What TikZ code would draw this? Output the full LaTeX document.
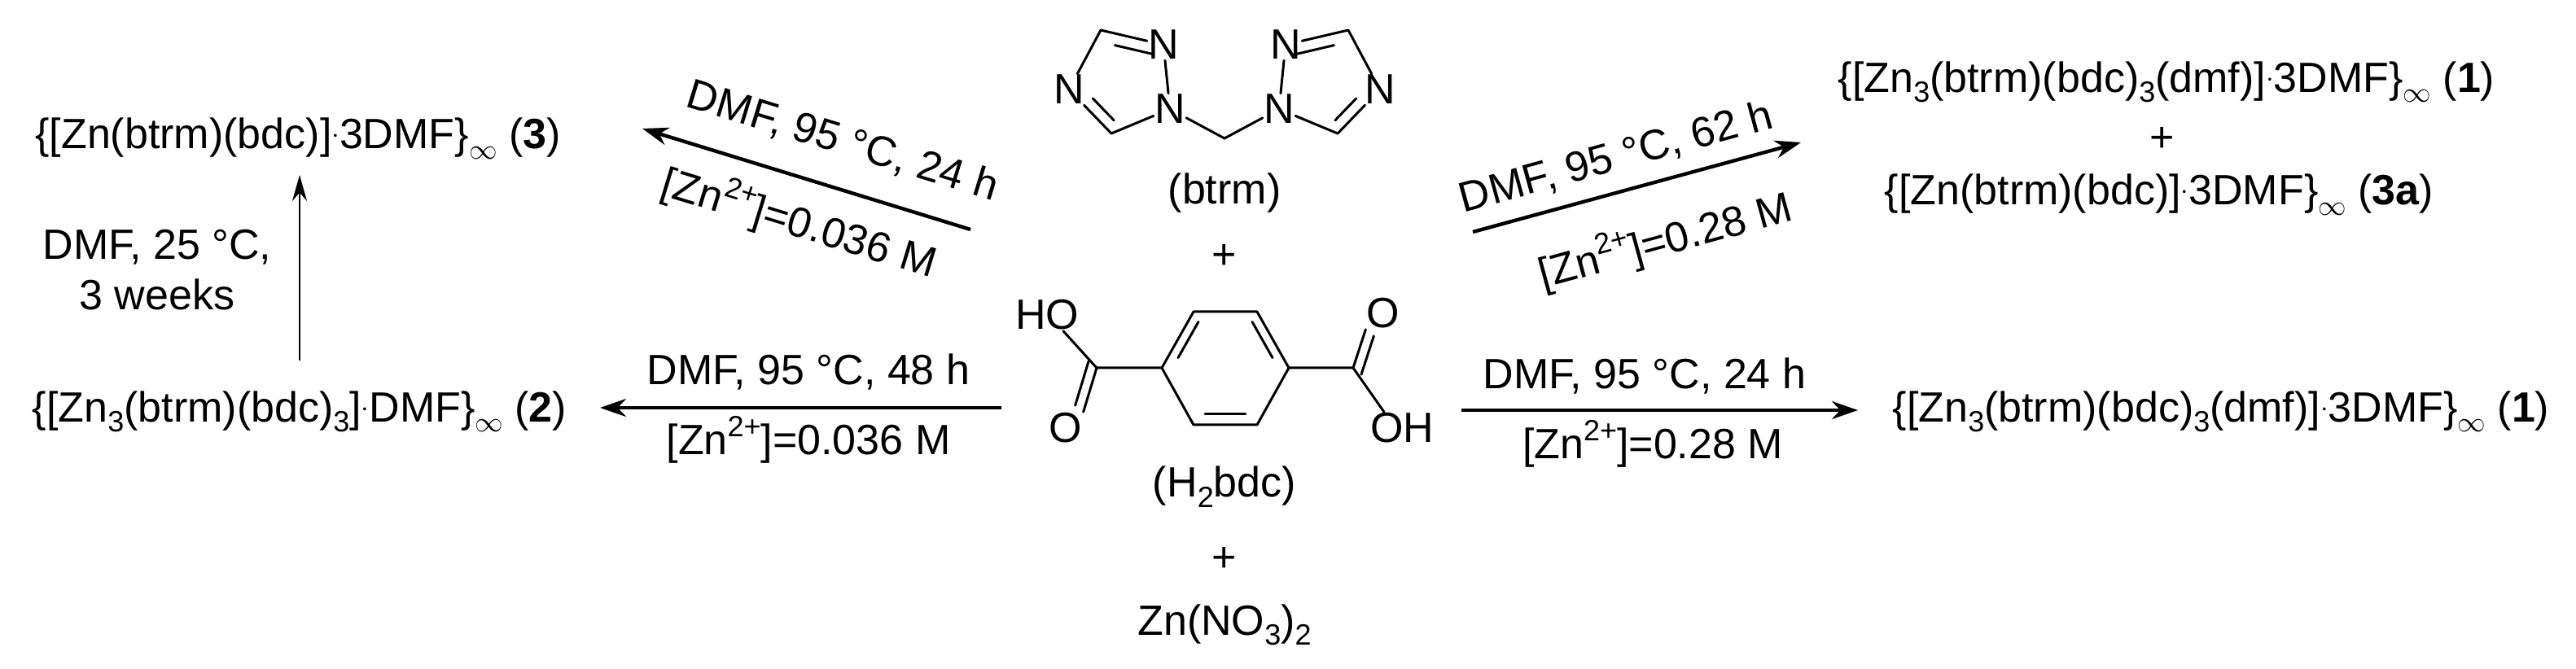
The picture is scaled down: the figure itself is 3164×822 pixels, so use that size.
\documentclass[tikz,border=0pt]{standalone}
\usepackage{fontspec}
\setmainfont{Liberation Sans}
\usetikzlibrary{arrows.meta,calc}
\newcommand\lo[1]{\raisebox{-0.45ex}{\fontsize{18}{18}\selectfont #1}}
\newcommand\hi[1]{\raisebox{0.8ex}{\fontsize{18}{18}\selectfont #1}}
\newcommand\cd{\raisebox{0.25ex}{\fontsize{16}{16}\selectfont$\cdot$}}
\begin{document}
\begin{tikzpicture}[x=0.5pt,y=-0.5pt,
  every node/.style={font=\fontsize{26}{31}\selectfont, inner sep=1pt},
  atom/.style={inner sep=0.5pt},
  bond/.style={line width=1.5pt, line cap=round},
  rxn/.style={line width=2.2pt, -{Stealth[length=16pt,width=11pt]}},
  thin rxn/.style={line width=1.3pt, -{Stealth[length=16pt,width=9pt]}}]
\useasboundingbox (0,0) rectangle (3164,822);
% ---- btrm ----
\node[atom] (Nt1) at (1429,55) {N};
\node[atom] (Nl1) at (1313,110) {N};
\node[atom] (Na1) at (1437,134) {N};
\coordinate (Ct1) at (1352,37);
\coordinate (Cb1) at (1365,164);
\coordinate (CH2) at (1504,170);
\node[atom] (Nt2) at (1579,55) {N};
\node[atom] (Nl2) at (1695,110) {N};
\node[atom] (Na2) at (1571,134) {N};
\coordinate (Ct2) at (1656,37);
\coordinate (Cb2) at (1643,164);
\draw[bond] (Ct1) -- (Nt1) (Nt1) -- (Na1) (Na1) -- (Cb1) (Cb1) -- (Nl1) (Nl1) -- (Ct1) (Na1) -- (CH2) -- (Na2);
\draw[bond] (Ct2) -- (Nt2) (Nt2) -- (Na2) (Na2) -- (Cb2) (Cb2) -- (Nl2) (Nl2) -- (Ct2);
\draw[bond] ($(Ct1)!0.2!(Nt1)+(2,15)$) -- ($(Ct1)!0.8!(Nt1)+(2,15)$);
\draw[bond] ($(Cb1)!0.15!(Nl1)+(11,-8)$) -- ($(Cb1)!0.65!(Nl1)+(11,-8)$);
\draw[bond] ($(Ct2)!0.2!(Nt2)+(-2,15)$) -- ($(Ct2)!0.8!(Nt2)+(-2,15)$);
\draw[bond] ($(Cb2)!0.15!(Nl2)+(-11,-8)$) -- ($(Cb2)!0.65!(Nl2)+(-11,-8)$);
\node (btrm) at (1504,237) {(btrm)};
\node (plus1) at (1504,315) {+};
% ---- H2bdc ----
\coordinate (r1) at (1466,383); \coordinate (r2) at (1544,383);
\coordinate (r3) at (1583,452); \coordinate (r4) at (1544,522);
\coordinate (r5) at (1466,522); \coordinate (r6) at (1427,452);
\draw[bond, line join=round] (r1) -- (r2) -- (r3) -- (r4) -- (r5) -- (r6) -- cycle;
\draw[bond] ($(r6)!0.18!(r1)+(13,0)$) -- ($(r6)!0.82!(r1)+(13,0)$);
\draw[bond] ($(r2)!0.18!(r3)+(-13,0)$) -- ($(r2)!0.82!(r3)+(-13,0)$);
\draw[bond] ($(r4)!0.18!(r5)+(0,-13)$) -- ($(r4)!0.82!(r5)+(0,-13)$);
\coordinate (CL) at (1347,452); \coordinate (CR) at (1662,452);
\node[atom] (HO) at (1286,387) {HO};
\node[atom] (OL) at (1309,526) {O};
\node[atom] (OR) at (1699,385) {O};
\node[atom] (OH) at (1722,526) {OH};
\draw[bond] (r6) -- (CL) (CL) -- ([xshift=10pt]HO.south) ;
\draw[bond] (r3) -- (CR) (CR) -- ([xshift=-11pt]OH.north);
\draw[bond] (CL) -- (OL.north east) ($(CL)+(-10,-8)$) -- ($(OL.north east)+(-10,-8)$);
\draw[bond] (CR) -- (OR.south west) ($(CR)+(10,8)$) -- ($(OR.south west)+(10,8)$);
\node (h2bdc) at (1504,598) {(H\lo{2}bdc)};
\node (plus2) at (1504,687) {+};
\node (zn) at (1504,768) {Zn(NO\lo{3})\lo{2}};
% ---- products ----
\node (p3) at (366,170) {\{[Zn(btrm)(bdc)]\cd3DMF\}\lo{$\infty$} (\textbf{3})};
\node (p2) at (368,506) {\{[Zn\lo{3}(btrm)(bdc)\lo{3}]\cd DMF\}\lo{$\infty$} (\textbf{2})};
\node (p1a) at (2661,101) {\{[Zn\lo{3}(btrm)(bdc)\lo{3}(dmf)]\cd3DMF\}\lo{$\infty$} (\textbf{1})};
\node (plus3) at (2656,172) {+};
\node (p3a) at (2652,239) {\{[Zn(btrm)(bdc)]\cd3DMF\}\lo{$\infty$} (\textbf{3a})};
\node (p1b) at (2728,506) {\{[Zn\lo{3}(btrm)(bdc)\lo{3}(dmf)]\cd3DMF\}\lo{$\infty$} (\textbf{1})};
% ---- arrows ----
\coordinate (a1s) at (1230,501); \coordinate (a1e) at (737,501);
\draw[rxn] (a1s) -- (a1e);
\node (c1a) at (993,457) {DMF, 95 \textdegree C, 48 h};
\node (c1b) at (993,540) {[Zn\hi{2+}]=0.036 M};
\coordinate (a2s) at (368,443); \coordinate (a2e) at (368,215);
\draw[thin rxn] (a2s) -- (a2e);
\node[align=center] (c2) at (193,332) {DMF, 25 \textdegree C,\\3 weeks};
\coordinate (a3s) at (1192,282); \coordinate (a3e) at (789,158);
\draw[rxn] (a3s) -- (a3e);
\node[rotate=-17] (c3a) at (1035,174) {DMF, 95 \textdegree C, 24 h};
\node[rotate=-17] (c3b) at (982,273) {[Zn\hi{2+}]=0.036 M};
\coordinate (a4s) at (1809,285); \coordinate (a4e) at (2212,175);
\draw[rxn] (a4s) -- (a4e);
\node[rotate=15.3] (c4a) at (1985,194) {DMF, 95 \textdegree C, 62 h};
\node[rotate=15.3] (c4b) at (2045,295) {[Zn\hi{2+}]=0.28 M};
\coordinate (a5s) at (1795,504); \coordinate (a5e) at (2282,504);
\draw[rxn] (a5s) -- (a5e);
\node (c5a) at (2020,462) {DMF, 95 \textdegree C, 24 h};
\node (c5b) at (2030,545) {[Zn\hi{2+}]=0.28 M};
\end{tikzpicture}
\end{document}
